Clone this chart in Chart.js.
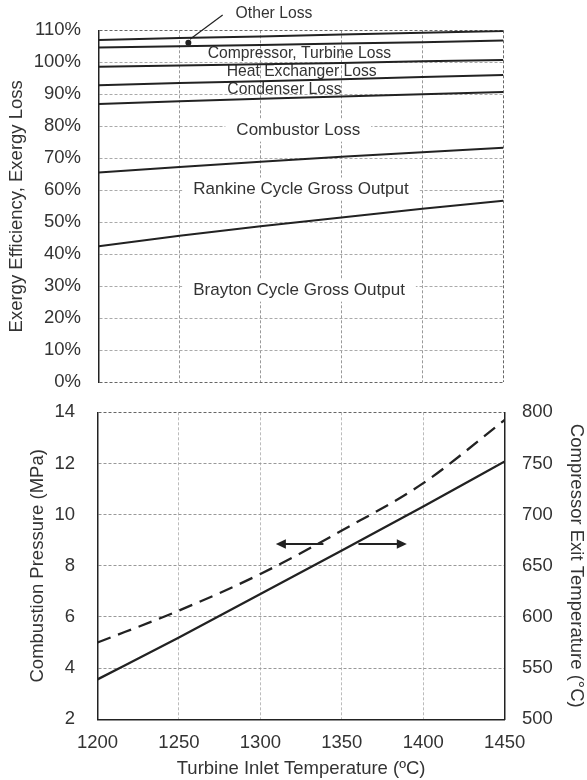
<!DOCTYPE html>
<html><head><meta charset="utf-8">
<script src="https://cdn.jsdelivr.net/npm/chart.js@4"></script>
<style>
html,body{margin:0;padding:0;background:#fff;}
#wrap{position:relative;width:587px;height:780px;overflow:hidden;}
#c1{position:absolute;left:0;top:0;}
#c2{position:absolute;left:0;top:400px;}
</style></head><body>
<div id="wrap"><canvas id="c1" width="587" height="395"></canvas><canvas id="c2" width="587" height="380"></canvas></div>
<script>
// ---- data (top panel: cumulative exergy %) ----
const turbineInletTemp = [1200, 1250, 1300, 1350, 1400, 1450];
const braytonGrossOutput = [42.5, 45.8, 48.8, 51.5, 54.2, 56.7];
const rankineGrossOutput = [65.6, 67.3, 68.9, 70.5, 71.9, 73.3];
const combustorLoss      = [87.0, 87.8, 88.6, 89.3, 90.0, 90.7];
const condenserLoss      = [92.8, 93.5, 94.1, 94.7, 95.4, 96.0];
const heatExchangerLoss  = [98.6, 99.0, 99.4, 99.8, 100.3, 100.7];
const compTurbineLoss    = [104.6, 105.0, 105.4, 105.9, 106.3, 106.8];
const otherLoss          = [107.0, 107.6, 108.1, 108.7, 109.2, 109.8];
// ---- data (bottom panel) ----
const combustionPressure = [5.0, 6.25, 7.68, 9.38, 11.23, 13.7];   // MPa, left axis
const compressorExitTemp = [539, 580, 622.5, 665, 708, 752];        // °C, right axis

const FONT = "'Liberation Sans', Arial, sans-serif";
const TXT = '#333';
const LINE = '#222';
Chart.defaults.font.family = FONT;
Chart.defaults.color = TXT;

const pts = arr => arr.map((v, i) => ({x: turbineInletTemp[i], y: v}));
const noPadV = s => { s.paddingTop = 0; s.paddingBottom = 0; };
const noPadH = s => { s.paddingLeft = 0; s.paddingRight = 0; };

// annotations in data units
const topLabels = [
  {text: 'Compressor, Turbine Loss', x: 1324, y: 102.6, size: 15.7, box: false},
  {text: 'Heat Exchanger Loss', x: 1325.4, y: 97.1, size: 15.7, box: false},
  {text: 'Condenser Loss', x: 1314.8, y: 91.6, size: 15.7, box: false},
  {text: 'Combustor Loss', x: 1323.3, y: 78.8, size: 17, box: true},
  {text: 'Rankine Cycle Gross Output', x: 1325, y: 60.4, size: 17, box: true},
  {text: 'Brayton Cycle Gross Output', x: 1323.8, y: 28.8, size: 17, box: true}
];
const otherNote = {text: 'Other Loss', x: 1308.3, y: 115.3, size: 15.7,
  dot: {x: 1255.4, y: 106.1}, lead: [{x: 1256.4, y: 107.2}, {x: 1276.6, y: 114.8}]};

const topAnnot = {
  id: 'topAnnot',
  beforeDatasetsDraw(chart) {
    const {ctx, scales: {x, y}} = chart;
    ctx.save();
    ctx.textAlign = 'center';
    ctx.textBaseline = 'middle';
    topLabels.forEach(l => {
      ctx.font = l.size + 'px ' + FONT;
      const px = x.getPixelForValue(l.x), py = y.getPixelForValue(l.y);
      if (l.box) {
        const w = ctx.measureText(l.text).width + 22;
        const h = l.size + 6;
        ctx.fillStyle = '#fff';
        ctx.fillRect(px - w / 2, py - h / 2, w, h);
      }
      ctx.fillStyle = TXT;
      ctx.fillText(l.text, px, py);
    });
    ctx.restore();
  },
  afterDatasetsDraw(chart) {
    const {ctx, scales: {x, y}} = chart;
    ctx.save();
    ctx.textAlign = 'center';
    ctx.textBaseline = 'middle';
    ctx.font = otherNote.size + 'px ' + FONT;
    ctx.fillStyle = TXT;
    ctx.fillText(otherNote.text, x.getPixelForValue(otherNote.x), y.getPixelForValue(otherNote.y));
    ctx.strokeStyle = LINE;
    ctx.lineWidth = 1.2;
    ctx.beginPath();
    ctx.moveTo(x.getPixelForValue(otherNote.lead[0].x), y.getPixelForValue(otherNote.lead[0].y));
    ctx.lineTo(x.getPixelForValue(otherNote.lead[1].x), y.getPixelForValue(otherNote.lead[1].y));
    ctx.stroke();
    ctx.fillStyle = LINE;
    ctx.beginPath();
    ctx.arc(x.getPixelForValue(otherNote.dot.x), y.getPixelForValue(otherNote.dot.y), 3, 0, Math.PI * 2);
    ctx.fill();
    ctx.restore();
  }
};

const mkLine = (label, arr) => ({label, data: pts(arr), borderColor: LINE, borderWidth: 2,
  pointRadius: 0, fill: false, tension: 0});

new Chart(document.getElementById('c1'), {
  type: 'line',
  data: {datasets: [
    mkLine('Brayton Cycle Gross Output', braytonGrossOutput),
    mkLine('Rankine Cycle Gross Output', rankineGrossOutput),
    mkLine('Combustor Loss', combustorLoss),
    mkLine('Condenser Loss', condenserLoss),
    mkLine('Heat Exchanger Loss', heatExchangerLoss),
    mkLine('Compressor, Turbine Loss', compTurbineLoss),
    mkLine('Other Loss', otherLoss)
  ]},
  options: {
    responsive: false, animation: false, devicePixelRatio: 1,
    layout: {padding: {left: 0, right: 83.7, top: 30.3, bottom: 12.7}},
    plugins: {legend: {display: false}, tooltip: {enabled: false}},
    scales: {
      x: {type: 'linear', min: 1200, max: 1450,
        ticks: {display: false, stepSize: 50},
        grid: {color: c => (c.tick && c.tick.value === 1450) ? '#666' : '#999', drawTicks: false, lineWidth: 1},
        border: {display: false, dash: [3, 2]},
        afterFit(s) { s.height = 0; noPadH(s); }},
      y: {min: 0, max: 110,
        ticks: {stepSize: 10, callback: v => v + '%', padding: 17.7, font: {size: 18.5}, color: TXT},
        grid: {color: c => (c.tick && (c.tick.value === 0 || c.tick.value === 110)) ? '#666' : '#aaa', drawTicks: false, lineWidth: 1},
        border: {display: true, color: LINE, width: 1.5, dash: [3, 2]},
        title: {display: true, text: 'Exergy Efficiency, Exergy Loss', font: {size: 18.5}, color: TXT, padding: {top: 6, bottom: 0}},
        afterFit(s) { s.width = 98.7; noPadV(s); }}
    }
  },
  plugins: [topAnnot]
});

// ---- bottom panel ----
const arrows = [
  {from: {x: 1338.7, y: 8.85}, to: {x: 1309.5, y: 8.85}},
  {from: {x: 1360.2, y: 8.85}, to: {x: 1389.9, y: 8.85}}
];
const arrowPlugin = {
  id: 'arrows',
  afterDatasetsDraw(chart) {
    const {ctx, scales: {x, y}} = chart;
    ctx.save();
    ctx.strokeStyle = LINE; ctx.fillStyle = LINE; ctx.lineWidth = 2;
    arrows.forEach(a => {
      const x1 = x.getPixelForValue(a.from.x), y1 = y.getPixelForValue(a.from.y);
      const x2 = x.getPixelForValue(a.to.x), y2 = y.getPixelForValue(a.to.y);
      const dir = Math.sign(x2 - x1);
      ctx.beginPath(); ctx.moveTo(x1, y1); ctx.lineTo(x2 - dir * 8, y2); ctx.stroke();
      ctx.beginPath(); ctx.moveTo(x2, y2); ctx.lineTo(x2 - dir * 10, y2 - 4.8); ctx.lineTo(x2 - dir * 10, y2 + 4.8); ctx.closePath(); ctx.fill();
    });
    ctx.restore();
  }
};

new Chart(document.getElementById('c2'), {
  type: 'line',
  data: {datasets: [
    {label: 'Combustion Pressure (MPa)', data: pts(combustionPressure), yAxisID: 'y',
      borderColor: LINE, borderWidth: 2.3, borderDash: [14, 8], pointRadius: 0, fill: false, cubicInterpolationMode: 'monotone'},
    {label: 'Compressor Exit Temperature (°C)', data: pts(compressorExitTemp), yAxisID: 'y1',
      borderColor: LINE, borderWidth: 2.3, pointRadius: 0, fill: false, cubicInterpolationMode: 'monotone'}
  ]},
  options: {
    responsive: false, animation: false, devicePixelRatio: 1,
    layout: {padding: {left: 0, right: 0, top: 12.3, bottom: 0}},
    plugins: {legend: {display: false}, tooltip: {enabled: false}},
    scales: {
      x: {type: 'linear', min: 1200, max: 1450,
        ticks: {stepSize: 50, padding: 13, font: {size: 18.5}, color: TXT, maxRotation: 0, autoSkip: false, callback: v => String(v)},
        grid: {color: '#bbb', drawTicks: false, lineWidth: 1},
        border: {display: true, color: LINE, width: 1.5, dash: [3, 2]},
        title: {display: true, text: 'Turbine Inlet Temperature (ºC)', font: {size: 18.5}, color: TXT, padding: {top: 0, bottom: 0}},
        afterFit(s) { s.height = 60.7; noPadH(s); }},
      y: {position: 'left', min: 2, max: 14,
        ticks: {stepSize: 2, padding: 22.5, font: {size: 18.5}, color: TXT},
        grid: {color: c => (c.tick && c.tick.value === 14) ? '#666' : '#999', drawTicks: false, lineWidth: 1},
        border: {display: true, color: LINE, width: 1.5, dash: [3, 2]},
        title: {display: true, text: 'Combustion Pressure (MPa)', font: {size: 18.5}, color: TXT, padding: {top: 26.4, bottom: 0}},
        afterFit(s) { s.width = 97.5; noPadV(s); }},
      y1: {position: 'right', min: 500, max: 800,
        ticks: {stepSize: 50, padding: 17.3, font: {size: 18.5}, color: TXT},
        grid: {drawOnChartArea: false, drawTicks: false},
        border: {display: true, color: LINE, width: 1.5},
        title: {display: true, text: 'Compressor Exit Temperature (°C)', font: {size: 18.5}, color: TXT, padding: {top: 0, bottom: 0}},
        afterFit(s) { s.width = 82.3; noPadV(s); }}
    }
  },
  plugins: [arrowPlugin]
});
</script>
</body></html>
